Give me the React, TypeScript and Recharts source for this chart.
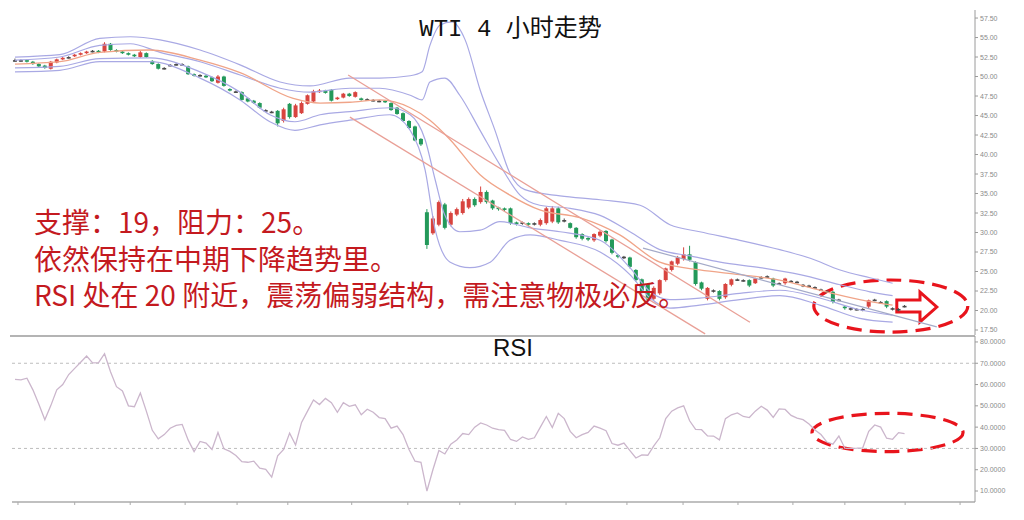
import React from 'react';
import {
  ComposedChart,
  Bar,
  Line,
  XAxis,
  YAxis,
  ReferenceLine,
  ReferenceArea,
} from 'recharts';

// ---------------- data ----------------
const opens = [
  52.1, 52.0, 52.1, 51.9, 51.6, 51.4, 51.0, 51.8, 52.2, 52.4,
  52.6, 52.8, 53.0, 53.2, 53.3, 53.2, 54.2, 53.4, 53.2, 53.0,
  52.8, 52.5, 53.0, 52.0, 51.6, 51.1, 51.4, 51.6, 51.5, 51.3,
  50.3, 50.1, 50.1, 49.9, 49.2, 50.0, 48.4, 48.1, 48.0, 47.2,
  46.9, 46.6, 45.7, 45.5, 45.6, 44.3, 46.5, 44.8, 45.3, 46.5,
  46.8, 48.0, 48.2, 48.3, 47.1, 47.3, 47.8, 47.4, 47.2, 47.0,
  47.0, 46.8, 46.9, 46.6, 46.0, 45.3, 44.3, 43.6, 42.0, 32.6,
  29.9, 31.0, 33.6, 31.0, 32.3, 32.5, 33.2, 34.3, 33.9, 35.2,
  34.1, 33.2, 33.1, 33.1, 31.3, 31.2, 31.2, 31.1, 31.0, 31.2,
  31.4, 33.1, 31.6, 31.2, 30.6, 29.8, 29.3, 29.0, 29.6, 30.2,
  29.1, 27.1, 26.9, 26.8, 25.2, 24.0, 23.4, 21.5, 22.2, 23.9,
  25.2, 26.0, 26.6, 27.2, 26.2, 23.6, 21.5, 22.6, 22.5, 21.7,
  23.3, 23.9, 23.9, 23.9, 23.5, 24.3, 24.3, 24.1, 23.5, 23.5,
  23.8, 23.6, 23.3, 23.2, 23.0, 22.7, 22.5, 22.4, 21.4, 20.5,
  20.3, 20.2, 20.2, 20.5, 21.3, 21.1, 21.2, 20.3, 20.1, 20.5,
];
const closes = [
  52.0, 52.1, 51.9, 51.6, 51.3, 51.1, 51.9, 52.2, 52.4, 52.5,
  52.8, 53.0, 53.2, 53.3, 53.1, 54.2, 53.4, 53.2, 53.0, 52.8,
  52.6, 53.1, 52.5, 51.6, 51.0, 51.0, 51.5, 51.5, 51.6, 50.3,
  50.1, 50.2, 49.9, 49.4, 50.0, 48.8, 48.2, 48.0, 47.0, 46.8,
  46.6, 46.0, 45.6, 45.4, 44.0, 45.8, 44.8, 46.3, 46.6, 47.6,
  48.1, 48.2, 47.9, 46.9, 47.3, 47.8, 47.5, 48.0, 47.0, 47.1,
  46.9, 46.9, 46.7, 45.7, 45.2, 44.3, 43.4, 41.8, 41.3, 28.4,
  31.8, 33.9, 30.6, 32.5, 33.0, 34.0, 34.3, 33.5, 35.2, 33.9,
  33.1, 33.0, 32.9, 31.2, 31.1, 31.3, 31.0, 31.2, 31.6, 33.1,
  33.1, 31.3, 31.5, 30.6, 29.4, 29.2, 29.1, 29.8, 30.1, 28.9,
  27.4, 26.9, 26.8, 25.6, 23.9, 22.4, 21.4, 22.9, 23.9, 25.4,
  26.3, 26.8, 27.2, 26.5, 23.4, 22.8, 22.9, 22.5, 21.5, 23.4,
  24.0, 24.0, 23.8, 23.2, 24.1, 24.2, 24.4, 23.2, 23.4, 24.1,
  23.7, 23.7, 23.2, 23.1, 22.9, 22.6, 22.4, 21.1, 21.3, 20.3,
  20.2, 20.2, 20.1, 21.3, 21.4, 21.0, 20.5, 20.2, 20.2, 20.6,
];
const highs = [
  52.3, 52.2, 52.2, 52.0, 51.7, 51.5, 52.0, 52.3, 52.5, 52.6,
  52.9, 53.1, 53.3, 53.4, 53.4, 54.4, 54.3, 53.5, 53.3, 53.1,
  52.9, 53.3, 53.1, 52.1, 51.7, 51.2, 51.6, 51.7, 51.7, 51.4,
  50.4, 50.3, 50.2, 50.0, 50.2, 50.1, 48.5, 48.2, 48.1, 47.3,
  47.0, 46.7, 45.8, 45.6, 45.7, 46.0, 46.6, 46.5, 46.8, 47.7,
  48.3, 48.4, 48.3, 48.4, 47.4, 47.9, 47.9, 48.1, 47.3, 47.2,
  47.1, 47.0, 47.0, 46.7, 46.1, 45.4, 44.4, 43.7, 42.1, 33.0,
  32.1, 34.1, 33.8, 32.7, 33.2, 34.3, 34.5, 34.5, 35.9, 35.4,
  34.2, 33.3, 33.2, 33.2, 31.4, 31.4, 31.3, 31.3, 31.8, 33.3,
  33.4, 33.3, 31.8, 31.3, 30.7, 29.9, 29.4, 29.9, 30.3, 30.3,
  29.2, 27.2, 27.0, 26.9, 25.3, 24.1, 23.5, 23.1, 24.0, 25.5,
  26.4, 27.0, 28.1, 28.3, 26.3, 23.7, 23.0, 22.7, 22.6, 23.5,
  24.1, 24.1, 24.0, 24.0, 24.2, 24.4, 24.5, 24.2, 23.6, 24.2,
  23.9, 23.8, 23.4, 23.3, 23.1, 22.8, 22.6, 22.5, 21.5, 20.6,
  20.4, 20.3, 20.3, 21.4, 21.5, 21.2, 21.3, 20.4, 20.3, 20.7,
];
const lows = [
  51.9, 51.9, 51.8, 51.5, 51.2, 51.0, 50.9, 51.7, 52.1, 52.3,
  52.5, 52.7, 52.9, 53.1, 53.0, 53.1, 53.3, 53.1, 52.9, 52.7,
  52.5, 52.4, 52.4, 51.5, 50.9, 50.9, 51.3, 51.4, 51.4, 50.2,
  50.0, 50.0, 49.8, 49.3, 49.1, 48.7, 48.1, 47.9, 46.9, 46.7,
  46.5, 45.9, 45.5, 45.3, 43.6, 44.1, 44.6, 44.7, 45.2, 46.4,
  46.6, 47.9, 47.8, 46.8, 47.0, 47.2, 47.4, 47.3, 46.9, 46.9,
  46.8, 46.7, 46.6, 45.6, 45.1, 44.2, 43.3, 41.7, 41.1, 27.9,
  29.7, 30.8, 30.4, 30.8, 32.1, 32.3, 33.0, 33.3, 33.7, 33.7,
  32.9, 32.8, 32.7, 31.0, 30.9, 31.0, 30.8, 30.9, 30.8, 31.0,
  31.2, 31.1, 31.3, 30.5, 29.2, 29.0, 28.9, 28.8, 29.4, 28.7,
  27.2, 26.7, 26.6, 25.4, 23.7, 22.2, 21.2, 21.3, 22.0, 23.7,
  25.0, 25.8, 26.4, 26.3, 23.2, 22.6, 21.3, 22.3, 21.3, 21.5,
  23.1, 23.8, 23.7, 23.0, 23.4, 24.1, 24.2, 23.0, 23.3, 23.3,
  23.6, 23.5, 23.0, 23.0, 22.8, 22.5, 22.3, 20.9, 21.2, 20.1,
  20.0, 20.0, 19.9, 20.3, 21.2, 20.9, 20.3, 20.0, 19.9, 20.4,
];
const rsiValues = [
  62.4, 62.2, 63.0, 57.5, 50.7, 43.5, 50.1, 57.5, 60.0, 64.7,
  67.6, 70.5, 73.4, 70.2, 70.3, 74.5, 66.0, 59.0, 57.0, 50.0,
  49.6, 56.0, 47.5, 38.5, 34.5, 36.5, 39.5, 40.8, 41.3, 34.0,
  28.5, 33.3, 32.5, 29.5, 37.5, 29.8, 28.6, 26.7, 23.8, 23.5,
  24.0, 20.7, 20.2, 16.5, 26.5, 29.5, 37.2, 31.6, 42.2, 47.5,
  52.8, 50.6, 53.5, 51.5, 47.0, 51.5, 49.8, 50.5, 45.8, 48.4,
  47.0, 44.5, 44.0, 39.5, 40.5, 36.5, 29.5, 24.0, 23.5, 10.0,
  20.0, 29.0, 27.4, 32.0, 34.0, 37.0, 36.5, 40.0, 42.0, 41.0,
  39.5, 38.8, 38.5, 34.2, 33.3, 35.4, 34.3, 35.0, 40.0, 45.0,
  39.8, 46.5, 44.0, 38.0, 35.0, 36.5, 37.5, 40.5, 39.5, 38.3,
  32.3, 31.5, 32.5, 29.0, 25.5, 27.0, 26.8, 31.2, 35.0, 44.0,
  47.5, 49.0, 50.0, 43.0, 38.9, 38.8, 35.9, 35.8, 34.0, 44.0,
  45.8, 46.7, 45.0, 44.5, 47.5, 49.8, 48.0, 44.6, 48.6, 48.3,
  45.5, 44.2, 43.5, 41.5, 38.7, 36.5, 33.0, 32.0, 35.8, 30.1,
  30.0, 30.1, 30.3, 38.0, 41.0, 40.0, 34.8, 34.3, 37.4, 37.0,
];

// Bollinger / MA curves, read at sparse bar positions: [bar index, price]
const bbUpperOuter: [number, number][] = [
  [0, 52.5], [7.5, 52.8], [14.2, 54.9], [19.3, 55.1], [24.3, 54.7], [31, 53.4],
  [37.7, 51.5], [44.4, 49.3], [49.4, 48.8], [56.1, 49.8], [61.1, 49.8], [66.2, 50.1],
  [68.2, 50.6], [69.5, 54.0], [71.2, 56.6], [73.2, 57.0], [75.4, 54.7], [77.9, 48.3],
  [80.4, 43.1], [82.9, 37.6], [85.4, 35.5], [91.3, 34.7], [98, 34.2], [104.7, 33.5],
  [109.7, 31.0], [114.7, 30.1], [121.4, 29.0], [128.1, 27.8], [133.2, 26.7],
  [138.2, 25.2], [143.2, 24.2], [147, 23.5],
];
const bbUpperInner: [number, number][] = [
  [0, 52.1], [7.5, 52.5], [14.2, 54.0], [19.3, 54.2], [24.3, 53.1], [31, 51.9],
  [37.7, 50.2], [44.4, 48.5], [49.4, 48.0], [56.1, 48.5], [61.1, 48.5], [66.2, 47.6],
  [68.2, 47.0], [69.5, 49.3], [72, 49.8], [74.5, 47.6], [77.9, 43.1], [81.2, 38.7],
  [84.6, 34.8], [87.9, 33.5], [93, 33.1], [98, 32.2], [103, 30.1], [108, 27.8],
  [113.1, 27.0], [118.1, 26.2], [124.8, 25.5], [131.5, 24.6], [138.2, 23.3],
  [143.2, 22.4], [147, 21.9],
];
const movingAverage: [number, number][] = [
  [0, 51.6], [7.5, 51.9], [14.2, 53.1], [22.6, 53.4], [31, 52.1], [37.7, 50.5],
  [46.6, 47.2], [51.1, 46.6], [56.1, 46.7], [61.1, 47.0], [66.2, 46.0], [69.5, 44.4],
  [72.9, 41.9], [77.9, 37.4], [82.9, 34.8], [87.9, 32.9], [94.6, 31.9], [101.3, 29.7],
  [108, 26.2], [114.7, 25.2], [121.4, 24.6], [128.1, 23.9], [134.8, 22.6],
  [141.5, 21.4], [147, 20.7],
];
const bbLowerInner: [number, number][] = [
  [0, 51.1], [7.5, 51.3], [14.2, 52.3], [22.6, 52.4], [31, 50.6], [37.7, 48.0],
  [42.7, 45.1], [46.9, 44.2], [51.1, 45.1], [56.1, 45.5], [62.8, 46.0], [66.2, 45.1],
  [68.7, 41.9], [70.4, 36.7], [72, 32.2], [74.5, 30.1], [77.9, 30.3], [81.2, 31.4],
  [86.3, 30.6], [91.3, 30.1], [98, 29.0], [103, 25.5], [106.4, 22.4], [109.7, 21.4],
  [114.7, 21.6], [121.4, 22.2], [128.1, 22.6], [134.8, 21.6], [141.5, 20.1], [147, 19.4],
];
const bbLowerOuter: [number, number][] = [
  [0, 50.6], [7.5, 50.8], [14.2, 51.9], [22.6, 51.9], [31, 49.8], [37.7, 47.0],
  [42.7, 44.2], [46.9, 43.1], [51.1, 43.8], [56.1, 44.4], [62.8, 45.1], [66.2, 43.1],
  [68.7, 38.0], [70.4, 30.3], [72.9, 26.2], [76.2, 25.5], [79.6, 26.2], [82.9, 29.0],
  [86.3, 29.7], [91.3, 29.0], [98, 27.5], [103, 24.6], [106.4, 21.6], [109.7, 20.3],
  [114.7, 20.7], [121.4, 21.4], [128.1, 21.9], [134.8, 20.7], [141.5, 19.0], [147, 18.5],
];

// trend lines: [bar index, price] end points
const channelUpper: [number, number][] = [[55.8, 50.2], [123.1, 18.5]];
const channelLower: [number, number][] = [[56.1, 44.8], [115.6, 17.0]];
const supportLine: [number, number][] = [[105.2, 28.0], [154.4, 17.9]];

const priceTicks = [17.5, 20, 22.5, 25, 27.5, 30, 32.5, 35, 37.5, 40, 42.5, 45, 47.5, 50, 52.5, 55, 57.5];
const rsiTicks = [10, 20, 30, 40, 50, 60, 70, 80];
const timeTicks = [0.5, 10, 19.3, 28.5, 37.2, 45.7, 56.4, 65.8, 74.5, 83.8, 92.3, 102.5, 111.9, 121.1, 130.3, 139, 149.1, 158.3];

const title = 'WTI 4 小时走势';
const notes = ['支撑：19，阻力：25。', '依然保持在中期下降趋势里。', 'RSI 处在 20 附近，震荡偏弱结构，需注意物极必反。'];

// ---------------- derived tables ----------------
const candleData = opens.map((o, k) => ({
  i: k,
  o,
  h: highs[k],
  l: lows[k],
  c: closes[k],
  range: [lows[k], highs[k]],
}));
const rsiData = rsiValues.map((v, k) => ({ i: k, v }));
const toSeries = (pts: [number, number][]) => pts.map(([i, v]) => ({ i, v }));

const RED = '#d8443f';
const GREEN = '#23995a';
const DOJI = '#4a4a4a';
const BAND = '#a9a9e4';
const MA = '#f0a488';
const TREND = '#e9a097';
const X_DOMAIN: [number, number] = [-0.5, 160.8];

function Candle(props: any) {
  const { x, y, width, height, payload } = props;
  if (!payload || x == null) return null;
  const { o, h, l, c } = payload;
  const top = Math.min(y, y + height);
  const hgt = Math.abs(height);
  const k = hgt / (h - l);
  const cx = x + width / 2;
  const diff = c - o;
  const color = Math.abs(diff) <= 0.15 ? DOJI : diff > 0 ? RED : GREEN;
  const b1 = top + (h - Math.max(o, c)) * k;
  const b2 = top + (h - Math.min(o, c)) * k;
  return (
    <g>
      <line x1={cx} x2={cx} y1={top} y2={top + hgt} stroke={color} strokeWidth={1} />
      <rect x={cx - 2} y={b1} width={4} height={Math.max(1.6, b2 - b1)} fill={color} />
    </g>
  );
}

function DashedEllipse(props: any) {
  const { x, y, width, height } = props;
  return (
    <ellipse
      cx={x + width / 2}
      cy={y + height / 2}
      rx={Math.abs(width) / 2}
      ry={Math.abs(height) / 2}
      fill="none"
      stroke="#e8141c"
      strokeWidth={3.2}
      strokeDasharray="15 8"
    />
  );
}

function ArrowShape(props: any) {
  const { x, y, width: w, height: h } = props;
  const pts = [
    [x, y + h * 0.27],
    [x + w * 0.58, y + h * 0.27],
    [x + w * 0.58, y],
    [x + w, y + h * 0.5],
    [x + w * 0.58, y + h],
    [x + w * 0.58, y + h * 0.67],
    [x, y + h * 0.67],
  ];
  return (
    <polygon
      points={pts.map((p) => p.join(',')).join(' ')}
      fill="#ffffff"
      stroke="#e8141c"
      strokeWidth={3}
      strokeLinejoin="miter"
    />
  );
}

const tickStyle = { fontSize: 7, fill: '#8a8a8a', fontFamily: 'Liberation Sans, Arial, sans-serif' };

export default function App() {
  return (
    <div style={{ position: 'absolute', left: 0, top: 0, width: 1024, height: 520, background: '#fff', overflow: 'hidden' }}>
      {/* price panel */}
      <div style={{ position: 'absolute', left: 0, top: 0 }}>
        <ComposedChart
          width={1024}
          height={340}
          data={candleData}
          margin={{ top: 10, right: 4, bottom: 5, left: 12 }}
        >
          <XAxis dataKey="i" type="number" domain={X_DOMAIN} hide allowDataOverflow />
          <YAxis
            orientation="right"
            type="number"
            domain={[16.86, 58.53]}
            ticks={priceTicks}
            width={45}
            allowDataOverflow
            axisLine={{ stroke: '#9a9a9a' }}
            tickLine={{ stroke: '#9a9a9a' }}
            tickSize={3}
            tickMargin={2}
            tick={tickStyle}
            tickFormatter={(v: number) => v.toFixed(2)}
          />
          <Line data={toSeries(bbUpperOuter)} dataKey="v" type="monotone" stroke={BAND} strokeWidth={1.2} dot={false} isAnimationActive={false} />
          <Line data={toSeries(bbUpperInner)} dataKey="v" type="monotone" stroke={BAND} strokeWidth={1.2} dot={false} isAnimationActive={false} />
          <Line data={toSeries(bbLowerInner)} dataKey="v" type="monotone" stroke={BAND} strokeWidth={1.2} dot={false} isAnimationActive={false} />
          <Line data={toSeries(bbLowerOuter)} dataKey="v" type="monotone" stroke={BAND} strokeWidth={1.2} dot={false} isAnimationActive={false} />
          <Line data={toSeries(movingAverage)} dataKey="v" type="monotone" stroke={MA} strokeWidth={1.3} dot={false} isAnimationActive={false} />
          <ReferenceLine
            segment={channelUpper.map(([x, y]) => ({ x, y }))}
            stroke={TREND}
            strokeWidth={1.3}
            ifOverflow="visible"
          />
          <ReferenceLine
            segment={channelLower.map(([x, y]) => ({ x, y }))}
            stroke={TREND}
            strokeWidth={1.3}
            ifOverflow="visible"
          />
          <ReferenceLine
            segment={supportLine.map(([x, y]) => ({ x, y }))}
            stroke="#a4aac8"
            strokeWidth={1.2}
            ifOverflow="visible"
          />
          <Bar dataKey="range" barSize={4} shape={<Candle />} isAnimationActive={false} />
          <ReferenceArea x1={147.7} x2={154.4} y1={18.53} y2={22.37} shape={<ArrowShape />} ifOverflow="visible" />
          <ReferenceArea x1={133.8} x2={159.6} y1={17.24} y2={23.91} shape={<DashedEllipse />} ifOverflow="visible" />
        </ComposedChart>
      </div>

      {/* separator */}
      <div style={{ position: 'absolute', left: 10, top: 335, width: 965, height: 1.5, background: '#b4b4b4' }} />

      {/* RSI panel */}
      <div style={{ position: 'absolute', left: 0, top: 335 }}>
        <ComposedChart
          width={1024}
          height={185}
          data={rsiData}
          margin={{ top: 1, right: 4, bottom: 0, left: 12 }}
        >
          <XAxis
            dataKey="i"
            type="number"
            domain={X_DOMAIN}
            allowDataOverflow
            ticks={timeTicks}
            height={18}
            axisLine={{ stroke: '#ababab', strokeWidth: 1.5 }}
            tickLine={{ stroke: '#ababab' }}
            tickSize={3}
            tick={{ fontSize: 1, fill: 'transparent' }}
          />
          <YAxis
            orientation="right"
            type="number"
            domain={[4.84, 82.8]}
            ticks={rsiTicks}
            width={45}
            allowDataOverflow
            axisLine={{ stroke: '#9a9a9a' }}
            tickLine={{ stroke: '#9a9a9a' }}
            tickSize={3}
            tickMargin={2}
            tick={tickStyle}
            tickFormatter={(v: number) => v.toFixed(4)}
          />
          <ReferenceLine y={70} stroke="#bdbdbd" strokeDasharray="3 3" />
          <ReferenceLine y={30} stroke="#bdbdbd" strokeDasharray="3 3" />
          <Line dataKey="v" type="linear" stroke="#cbb6cc" strokeWidth={1.3} dot={false} isAnimationActive={false} />
          <ReferenceArea x1={133.5} x2={158.8} y1={28.5} y2={46.5} shape={<DashedEllipse />} ifOverflow="visible" />
        </ComposedChart>
      </div>

      {/* title */}
      <div
        style={{
          position: 'absolute',
          left: 0,
          top: 17,
          width: 1021,
          textAlign: 'center',
          fontSize: 24,
          lineHeight: '26px',
          color: '#111',
          fontFamily: '"Liberation Mono", "Noto Sans CJK SC", monospace',
          whiteSpace: 'pre',
        }}
      >
        {title}
      </div>

      {/* RSI label */}
      <div
        style={{
          position: 'absolute',
          left: 493,
          top: 336,
          fontSize: 24,
          lineHeight: '24px',
          color: '#111',
          fontFamily: '"Liberation Sans", Arial, sans-serif',
        }}
      >
        RSI
      </div>

      {/* annotation */}
      <div
        style={{
          position: 'absolute',
          left: 34,
          top: 203,
          fontSize: 28,
          lineHeight: '36.5px',
          color: '#c41a1f',
          fontFamily: '"Noto Sans CJK SC", sans-serif',
          whiteSpace: 'pre',
        }}
      >
        {notes.map((n) => (
          <div key={n}>{n}</div>
        ))}
      </div>
    </div>
  );
}
